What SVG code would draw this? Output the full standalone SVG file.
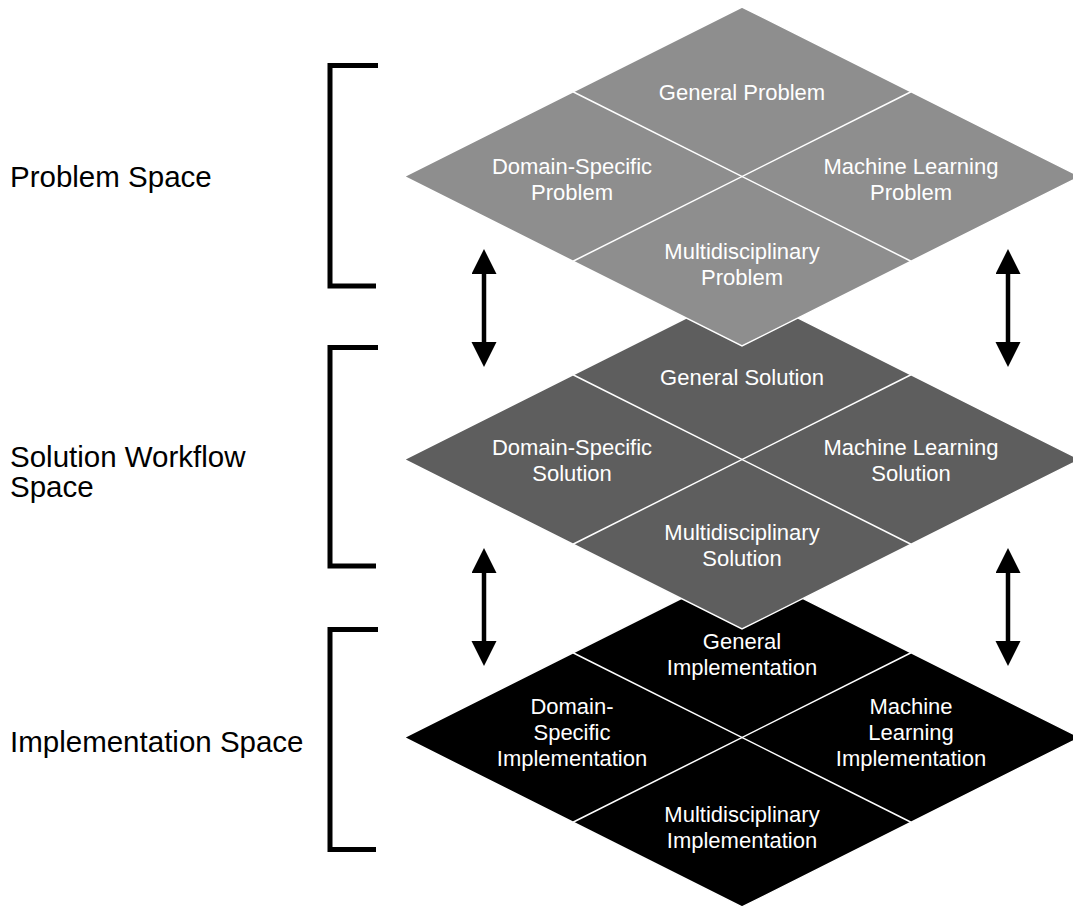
<svg xmlns="http://www.w3.org/2000/svg" width="1073" height="908" viewBox="0 0 1073 908">
<style>
.layer{stroke:#fff;stroke-width:1.5;stroke-linejoin:miter}
.div{stroke:#fff;stroke-width:1.5;fill:none}
.nt{font-family:"Liberation Sans",Arial,Helvetica,sans-serif;font-size:22px;fill:#fff;text-anchor:middle}
.lt{font-family:"Liberation Sans",Arial,Helvetica,sans-serif;font-size:29.5px;fill:#000}
.br{stroke:#000;stroke-width:5;fill:none;stroke-linecap:butt;stroke-linejoin:miter}
.ar{stroke:#000;stroke-width:4.5;fill:none;marker-start:url(#head);marker-end:url(#head)}
</style>
<defs>
<marker id="head" markerUnits="userSpaceOnUse" markerWidth="26" markerHeight="26" refX="2" refY="12.5" orient="auto-start-reverse" viewBox="0 0 26 26">
<path d="M0,0 L25,12.5 L0,25 z" fill="#000"/>
</marker>
</defs>
<rect width="1073" height="908" fill="#fff"/>

<g id="implementation-layer">
<polygon class="layer" fill="#000" points="742,568 1080,737.5 742,907 404,737.5"/>
<line class="div" x1="573" y1="652.75" x2="911" y2="822.25"/>
<line class="div" x1="911" y1="652.75" x2="573" y2="822.25"/>
<g id="general-implementation"><text class="nt" x="742" y="649">General</text><text class="nt" x="742" y="675">Implementation</text></g>
<g id="domain-implementation"><text class="nt" x="572" y="714">Domain-</text><text class="nt" x="572" y="740">Specific</text><text class="nt" x="572" y="766">Implementation</text></g>
<g id="ml-implementation"><text class="nt" x="911" y="714">Machine</text><text class="nt" x="911" y="740">Learning</text><text class="nt" x="911" y="766">Implementation</text></g>
<g id="multi-implementation"><text class="nt" x="742" y="822">Multidisciplinary</text><text class="nt" x="742" y="848">Implementation</text></g>
</g>

<g id="solution-layer">
<polygon class="layer" fill="#5e5e5e" points="742,290 1080,459.5 742,629 404,459.5"/>
<line class="div" x1="573" y1="374.75" x2="911" y2="544.25"/>
<line class="div" x1="911" y1="374.75" x2="573" y2="544.25"/>
<g id="general-solution"><text class="nt" x="742" y="385">General Solution</text></g>
<g id="domain-solution"><text class="nt" x="572" y="455">Domain-Specific</text><text class="nt" x="572" y="481">Solution</text></g>
<g id="ml-solution"><text class="nt" x="911" y="455">Machine Learning</text><text class="nt" x="911" y="481">Solution</text></g>
<g id="multi-solution"><text class="nt" x="742" y="540">Multidisciplinary</text><text class="nt" x="742" y="566">Solution</text></g>
</g>

<g id="problem-layer">
<polygon class="layer" fill="#8e8e8e" points="742,7 1080,176.5 742,346 404,176.5"/>
<line class="div" x1="573" y1="91.75" x2="911" y2="261.25"/>
<line class="div" x1="911" y1="91.75" x2="573" y2="261.25"/>
<g id="general-problem"><text class="nt" x="742" y="100">General Problem</text></g>
<g id="domain-problem"><text class="nt" x="572" y="174">Domain-Specific</text><text class="nt" x="572" y="200">Problem</text></g>
<g id="ml-problem"><text class="nt" x="911" y="174">Machine Learning</text><text class="nt" x="911" y="200">Problem</text></g>
<g id="multi-problem"><text class="nt" x="742" y="259">Multidisciplinary</text><text class="nt" x="742" y="285">Problem</text></g>
</g>

<g id="problem-space">
<path class="br" d="M378,65.5 H330 V286 H376"/>
<text class="lt" x="10" y="187">Problem Space</text>
</g>
<g id="solution-space">
<path class="br" d="M378,347.5 H330 V566 H376"/>
<text class="lt" x="10" y="467">Solution Workflow</text>
<text class="lt" x="10" y="497">Space</text>
</g>
<g id="implementation-space">
<path class="br" d="M378,629.5 H330 V849.5 H376"/>
<text class="lt" x="10" y="752">Implementation Space</text>
</g>

<g id="connectors">
<line class="ar" x1="484" y1="272" x2="484" y2="344"/>
<line class="ar" x1="1008" y1="272" x2="1008" y2="344"/>
<line class="ar" x1="484" y1="571" x2="484" y2="643"/>
<line class="ar" x1="1008" y1="571" x2="1008" y2="643"/>
</g>
</svg>
